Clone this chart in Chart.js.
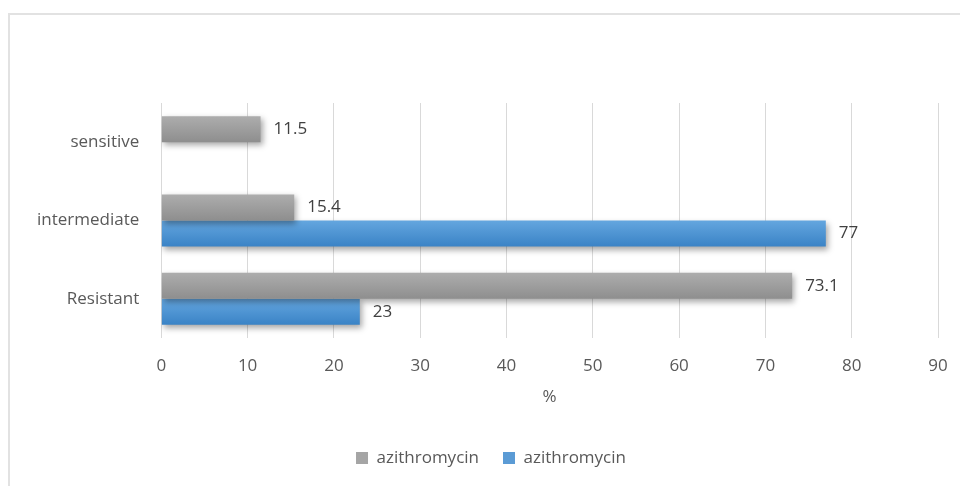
<!DOCTYPE html>
<html>
<head>
<meta charset="utf-8">
<script src="https://cdn.jsdelivr.net/npm/chart.js@4.4.1/dist/chart.umd.min.js"></script>
<style>
  html, body { margin: 0; padding: 0; background: #fff; overflow: hidden; }
  #frame {
    position: absolute; left: 8px; top: 13px;
    width: 1100px; height: 600px;
    border: 2px solid #e2e2e2;
  }
  #wrap { position: absolute; left: 0; top: 0; width: 960px; height: 486px; }
</style>
</head>
<body>
<div id="frame"></div>
<div id="wrap"><canvas id="chart"></canvas></div>
<script>
// ---- data ----
const categories = ["sensitive", "intermediate", "Resistant"];
const seriesNames = ["azithromycin", "azithromycin"];
const grayValues = [11.5, 15.4, 73.1];
const blueValues = [null, 77, 23];
const xMin = 0, xMax = 90, xStep = 10;

// ---- styles ----
const FONT = "'Open Sans', 'Liberation Sans', sans-serif";
const TEXT = "#595959";
const GRAY = { top: "#adadad", bottom: "#8e8e8e", solid: "#a5a5a5" };
const BLUE = { top: "#64a6df", bottom: "#3a83c6", solid: "#5b9bd5" };

function barGradient(style, half) {
  return ctx => {
    const chart = ctx.chart;
    if (!chart.chartArea || ctx.dataIndex === undefined) return style.solid;
    const c = chart.scales.y.getPixelForValue(ctx.dataIndex);
    const top = half === 0 ? c - 26 : c;
    const g = chart.ctx.createLinearGradient(0, top, 0, top + 26);
    g.addColorStop(0, style.top);
    g.addColorStop(1, style.bottom);
    return g;
  };
}

const shadowPlugin = {
  id: "shadow",
  beforeDatasetsDraw(chart) {
    const c = chart.ctx;
    c.save();
    c.shadowColor = "rgba(0,0,0,0.35)";
    c.shadowBlur = 6;
    c.shadowOffsetX = 2;
    c.shadowOffsetY = 3;
  },
  afterDatasetsDraw(chart) {
    chart.ctx.restore();
  }
};

const labelPlugin = {
  id: "valueLabels",
  afterDatasetsDraw(chart) {
    const c = chart.ctx;
    c.save();
    c.font = "17px " + FONT;
    c.fillStyle = "#404040";
    c.textAlign = "left";
    c.textBaseline = "middle";
    chart.data.datasets.forEach((ds, i) => {
      const meta = chart.getDatasetMeta(i);
      meta.data.forEach((bar, j) => {
        const v = ds.data[j];
        if (v === null || v === undefined) return;
        c.fillText(String(v), bar.x + 13, bar.y);
      });
    });
    c.restore();
  }
};

// legend sits a bit right of the canvas centre, like the Excel original
const legendShift = {
  id: "legendShift",
  afterLayout(chart) {
    chart.legend.left += 22;
    chart.legend.right += 22;
  }
};

new Chart(document.getElementById("chart"), {
  type: "bar",
  data: {
    labels: categories,
    datasets: [
      {
        label: seriesNames[0],
        data: grayValues,
        backgroundColor: barGradient(GRAY, 0),
        legendColor: GRAY.solid
      },
      {
        label: seriesNames[1],
        data: blueValues,
        backgroundColor: barGradient(BLUE, 1),
        legendColor: BLUE.solid
      }
    ]
  },
  options: {
    indexAxis: "y",
    responsive: true,
    maintainAspectRatio: false,
    animation: false,
    categoryPercentage: 0.664,
    barPercentage: 1,
    layout: { padding: { top: 103, left: 0, right: 22, bottom: 9.5 } },
    scales: {
      x: {
        min: xMin,
        max: xMax,
        ticks: { stepSize: xStep, color: TEXT, font: { family: FONT, size: 17 }, padding: 17.5 },
        grid: { color: "#d9d9d9", drawTicks: false },
        border: { display: false },
        title: {
          display: true,
          text: "%",
          color: TEXT,
          font: { family: FONT, size: 17 },
          padding: { top: 0, bottom: 18.3 }
        },
        afterFit: s => {
          s.height = 87.5;
          s.paddingLeft = 0;
          s.paddingRight = 0;
        }
      },
      y: {
        ticks: { color: TEXT, font: { family: FONT, size: 17 }, padding: 22 },
        grid: { display: false, drawTicks: false },
        border: { display: false },
        afterFit: s => { s.width = 161.3; }
      }
    },
    plugins: {
      legend: {
        position: "bottom",
        labels: {
          color: TEXT,
          font: { family: FONT, size: 17 },
          boxWidth: 12,
          boxHeight: 12,
          padding: 24,
          generateLabels: chart => chart.data.datasets.map((ds, i) => ({
            text: ds.label,
            fillStyle: ds.legendColor,
            strokeStyle: ds.legendColor,
            lineWidth: 0,
            fontColor: TEXT,
            hidden: false,
            datasetIndex: i
          }))
        }
      },
      tooltip: { enabled: false }
    }
  },
  plugins: [shadowPlugin, labelPlugin, legendShift]
});
</script>
</body>
</html>
